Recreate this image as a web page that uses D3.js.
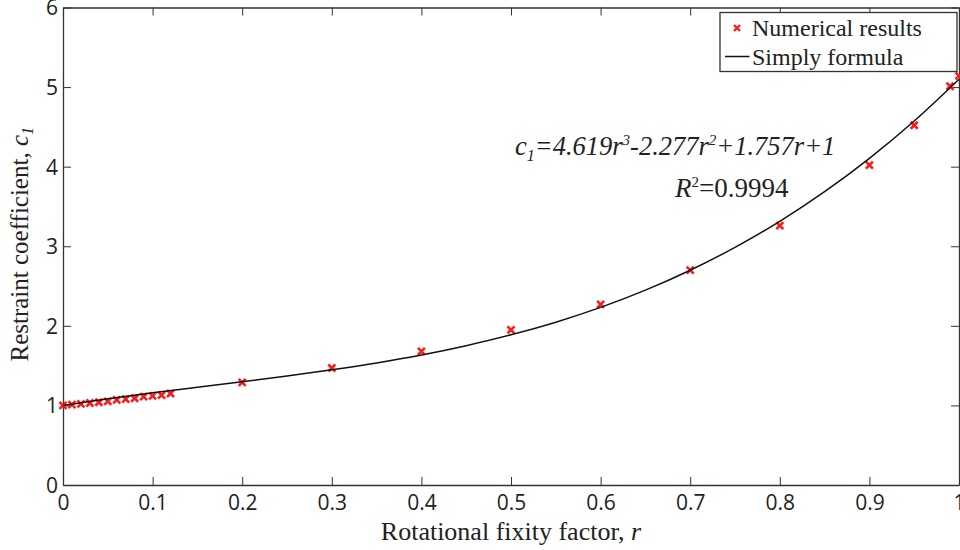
<!DOCTYPE html>
<html>
<head>
<meta charset="utf-8">
<script src="https://cdn.jsdelivr.net/npm/d3@7"></script>
<style>
  body { margin: 0; background: #fff; }
  .tick text { font-family: "Open Sans", sans-serif; font-size: 21px; fill: #222; }
  .serif { font-family: "Liberation Serif", "Times New Roman", serif; fill: #222; }
</style>
</head>
<body>
<div id="chart"></div>
<script>
// Numerical results (rotational fixity factor r -> restraint coefficient c1)
var rValues = [0, 0.01, 0.02, 0.03, 0.04, 0.05, 0.06, 0.07, 0.08, 0.09, 0.10, 0.11, 0.12,
               0.2, 0.3, 0.4, 0.5, 0.6, 0.7, 0.8, 0.9, 0.95, 0.99, 1.0];
var c1Values = [1.00, 1.01, 1.02, 1.03, 1.04, 1.05, 1.07, 1.08, 1.09, 1.11, 1.12, 1.13, 1.15,
                1.29, 1.47, 1.68, 1.95, 2.27, 2.70, 3.26, 4.02, 4.52, 5.01, 5.14];

// Simply formula curve
var fitR = [0, 0.05, 0.1, 0.15, 0.2, 0.25, 0.3, 0.35, 0.4, 0.45, 0.5,
            0.55, 0.6, 0.65, 0.7, 0.75, 0.8, 0.85, 0.9, 0.95, 1.0];
var fitC = [1.000, 1.083, 1.158, 1.228, 1.297, 1.369, 1.447, 1.534, 1.634, 1.751, 1.887,
            2.046, 2.232, 2.449, 2.699, 2.986, 3.313, 3.685, 4.104, 4.574, 5.099];

var xTicks = [0, 0.1, 0.2, 0.3, 0.4, 0.5, 0.6, 0.7, 0.8, 0.9, 1];
var yTicks = [0, 1, 2, 3, 4, 5, 6];

var legendLabels = ["Numerical results", "Simply formula"];

var margin = { top: 7.5, right: 1, bottom: 65, left: 63 },
    width = 960 - margin.left - margin.right,
    height = 550 - margin.top - margin.bottom;

var svg = d3.select("#chart")
    .append("svg")
    .attr("width", width + margin.left + margin.right)
    .attr("height", height + margin.top + margin.bottom)
    .append("g")
    .attr("transform", "translate(" + margin.left + "," + margin.top + ")");

var x = d3.scaleLinear().domain([0, 1]).range([0, width]);
var y = d3.scaleLinear().domain([0, 6]).range([height, 0]);

// axes, ticks pointing inwards on all four sides
function styleAxis(g) {
    g.select(".domain").attr("stroke", "#333").attr("stroke-width", 1.3);
    g.selectAll(".tick line").attr("stroke", "#333").attr("stroke-width", 1);
}

svg.append("g")
    .attr("transform", "translate(0," + height + ")")
    .call(d3.axisBottom(x).tickValues(xTicks).tickSizeInner(-8).tickSizeOuter(0)
        .tickFormat(d3.format("")))
    .call(styleAxis)
    .selectAll("text").attr("y", 25).attr("dy", 0);

svg.append("g")
    .call(d3.axisLeft(y).tickValues(yTicks).tickSizeInner(-8).tickSizeOuter(0)
        .tickFormat(d3.format("d")))
    .call(styleAxis)
    .selectAll("text").attr("x", -5).attr("dy", "0.35em");

svg.append("g")
    .call(d3.axisTop(x).tickValues(xTicks).tickSizeInner(-8).tickSizeOuter(0).tickFormat(""))
    .call(styleAxis);

svg.append("g")
    .attr("transform", "translate(" + width + ",0)")
    .call(d3.axisRight(y).tickValues(yTicks).tickSizeInner(-8).tickSizeOuter(0).tickFormat(""))
    .call(styleAxis);

// axis titles
var xTitle = svg.append("text")
    .attr("class", "serif")
    .attr("text-anchor", "middle")
    .attr("x", x(0.5))
    .attr("y", height + 55)
    .style("font-size", "26px");
xTitle.append("tspan").text("Rotational fixity factor, ");
xTitle.append("tspan").style("font-style", "italic").text("r");

var yTitle = svg.append("text")
    .attr("class", "serif")
    .attr("text-anchor", "middle")
    .attr("transform", "rotate(-90)")
    .attr("x", -y(3) + 2)
    .attr("y", -margin.left + 28)
    .style("font-size", "25px");
yTitle.append("tspan").text("Restraint coefficient, ");
yTitle.append("tspan").style("font-style", "italic").text("c");
yTitle.append("tspan").style("font-style", "italic").style("font-size", "16px").attr("dy", 5).text("1");

// numerical results as red crosses
var s = 3.5;
svg.append("g")
    .selectAll("path")
    .data(rValues.map(function (r, i) { return { r: r, c: c1Values[i] }; }))
    .enter()
    .append("path")
    .attr("transform", function (d) { return "translate(" + x(d.r) + "," + y(d.c) + ")"; })
    .attr("d", "M" + (-s) + "," + (-s) + "L" + s + "," + s + "M" + (-s) + "," + s + "L" + s + "," + (-s))
    .attr("stroke", "#ff1a1a")
    .attr("stroke-width", 2.6)
    .attr("fill", "none");

// fitted curve
var line = d3.line()
    .x(function (d, i) { return x(fitR[i]); })
    .y(function (d) { return y(d); })
    .curve(d3.curveMonotoneX);

svg.append("path")
    .datum(fitC)
    .attr("d", line)
    .attr("fill", "none")
    .attr("stroke", "#111")
    .attr("stroke-width", 1.5);

// equation annotation
var eq = svg.append("text")
    .attr("class", "serif")
    .attr("x", 515 - margin.left)
    .attr("y", 155 - margin.top)
    .style("font-size", "26.5px")
    .style("font-style", "italic");
eq.append("tspan").text("c");
eq.append("tspan").style("font-size", "16px").attr("dy", 6).text("1");
eq.append("tspan").attr("dy", -6).text("=4.619r");
eq.append("tspan").style("font-size", "15px").attr("dy", -10).text("3");
eq.append("tspan").attr("dy", 10).text("-2.277r");
eq.append("tspan").style("font-size", "15px").attr("dy", -10).text("2");
eq.append("tspan").attr("dy", 10).text("+1.757r+1");

var r2 = svg.append("text")
    .attr("class", "serif")
    .attr("x", 675 - margin.left)
    .attr("y", 197 - margin.top)
    .style("font-size", "27px");
r2.append("tspan").style("font-style", "italic").text("R");
r2.append("tspan").style("font-size", "15px").attr("dy", -10).text("2");
r2.append("tspan").attr("dy", 10).text("=0.9994");

// legend
var legend = svg.append("g")
    .attr("transform", "translate(" + (720 - margin.left) + "," + (12.5 - margin.top) + ")");

legend.append("rect")
    .attr("width", 237)
    .attr("height", 59)
    .attr("fill", "#fff")
    .attr("stroke", "#333")
    .attr("stroke-width", 1.3);

legend.append("path")
    .attr("transform", "translate(17,15.5)")
    .attr("d", "M-3,-3L3,3M-3,3L3,-3")
    .attr("stroke", "#ff1a1a")
    .attr("stroke-width", 2.4);

legend.append("line")
    .attr("x1", 5).attr("x2", 29.5)
    .attr("y1", 44).attr("y2", 44)
    .attr("stroke", "#111")
    .attr("stroke-width", 1.5);

legend.selectAll("mylabels")
    .data(legendLabels)
    .enter()
    .append("text")
    .attr("class", "serif")
    .attr("x", 32)
    .attr("y", function (d, i) { return 23 + i * 29; })
    .style("font-size", "24px")
    .text(function (d) { return d; });
</script>
</body>
</html>
